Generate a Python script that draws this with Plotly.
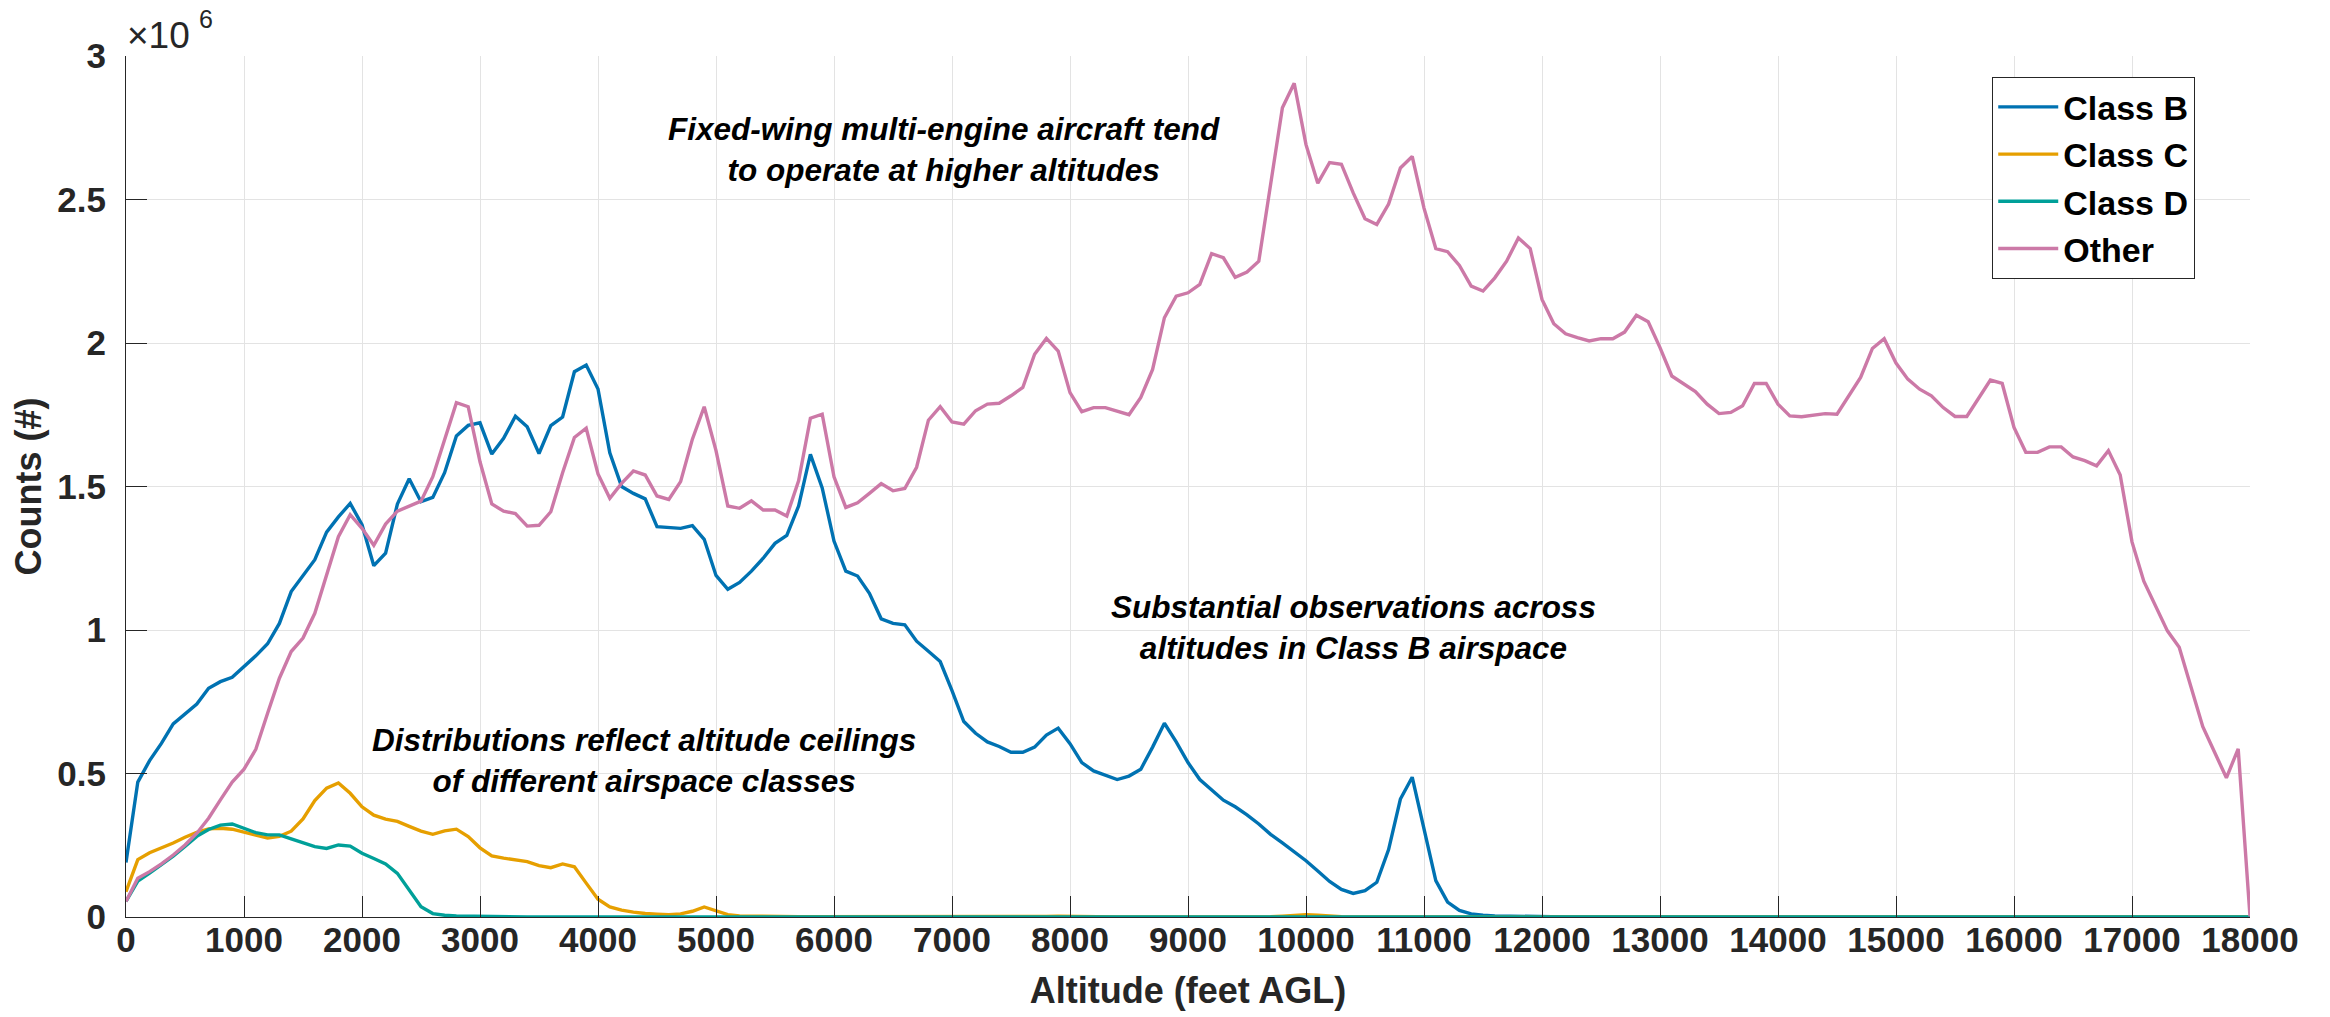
import plotly.graph_objects as go

# Altitude bins (feet AGL), 100 ft spacing
altitude = list(range(0, 18001, 100))

# Counts in millions (x10^6)
class_b = [
    0.19, 0.47, 0.545, 0.605, 0.673, 0.708, 0.742, 0.797, 0.82, 0.835,
    0.872, 0.91, 0.952, 1.023, 1.134, 1.19, 1.245, 1.341, 1.394, 1.441,
    1.367, 1.224, 1.268, 1.439, 1.527, 1.447, 1.462, 1.548, 1.676, 1.713,
    1.722, 1.613, 1.668, 1.745, 1.708, 1.615, 1.712, 1.742, 1.9, 1.923,
    1.84, 1.617, 1.5, 1.476, 1.457, 1.36, 1.357, 1.354, 1.364, 1.316,
    1.19, 1.142, 1.166, 1.205, 1.25, 1.302, 1.33, 1.432, 1.612, 1.495,
    1.31, 1.205, 1.188, 1.128, 1.039, 1.023, 1.018, 0.961, 0.926, 0.89,
    0.789, 0.681, 0.64, 0.61, 0.594, 0.574, 0.574, 0.592, 0.634, 0.658,
    0.604, 0.538, 0.509, 0.494, 0.479, 0.491, 0.515, 0.592, 0.675, 0.61,
    0.538, 0.479, 0.443, 0.407, 0.384, 0.356, 0.324, 0.288, 0.258, 0.226,
    0.196, 0.16, 0.124, 0.096, 0.082, 0.092, 0.121, 0.235, 0.411, 0.487,
    0.306, 0.127, 0.052, 0.023, 0.011, 0.006, 0.004, 0.003, 0.002, 0.002,
    0.001, 0, 0, 0, 0, 0, 0, 0, 0, 0,
    0, 0, 0, 0, 0, 0, 0, 0, 0, 0,
    0, 0, 0, 0, 0, 0, 0, 0, 0, 0,
    0, 0, 0, 0, 0, 0, 0, 0, 0, 0,
    0, 0, 0, 0, 0, 0, 0, 0, 0, 0,
    0, 0, 0, 0, 0, 0, 0, 0, 0, 0,
    0,
]

class_c = [
    0.088, 0.2, 0.224, 0.24, 0.258, 0.278, 0.295, 0.307, 0.309, 0.306,
    0.297, 0.285, 0.275, 0.281, 0.299, 0.342, 0.406, 0.449, 0.467, 0.431,
    0.384, 0.355, 0.341, 0.333, 0.316, 0.299, 0.288, 0.3, 0.306, 0.28,
    0.241, 0.213, 0.205, 0.199, 0.193, 0.179, 0.172, 0.185, 0.175, 0.118,
    0.062, 0.035, 0.024, 0.017, 0.012, 0.01, 0.008, 0.011, 0.02, 0.035,
    0.02, 0.008, 0.004, 0.003, 0.002, 0.001, 0.001, 0.001, 0.001, 0.001,
    0.001, 0.001, 0.001, 0, 0, 0, 0, 0, 0, 0,
    0, 0, 0, 0, 0, 0, 0, 0.001, 0.002, 0.003,
    0.002, 0.001, 0, 0, 0, 0, 0, 0, 0, 0,
    0, 0, 0, 0, 0, 0, 0, 0.001, 0.003, 0.006,
    0.008, 0.006, 0.003, 0.001, 0, 0, 0, 0, 0, 0,
    0, 0, 0, 0, 0, 0, 0, 0, 0, 0,
    0, 0, 0, 0, 0, 0, 0, 0, 0, 0,
    0, 0, 0, 0, 0, 0, 0, 0, 0, 0,
    0, 0, 0, 0, 0, 0, 0, 0, 0, 0,
    0, 0, 0, 0, 0, 0, 0, 0, 0, 0,
    0, 0, 0, 0, 0, 0, 0, 0, 0, 0,
    0, 0, 0, 0, 0, 0, 0, 0, 0, 0,
    0,
]

class_d = [
    0.054, 0.125, 0.153, 0.181, 0.212, 0.246, 0.281, 0.305, 0.32, 0.324,
    0.31, 0.294, 0.286, 0.286, 0.272, 0.257, 0.245, 0.239, 0.251, 0.247,
    0.222, 0.204, 0.185, 0.152, 0.095, 0.036, 0.012, 0.006, 0.004, 0.003,
    0.002, 0.002, 0.001, 0.001, 0, 0, 0, 0, 0, 0,
    0, 0, 0, 0, 0, 0, 0, 0, 0, 0,
    0, 0, 0, 0, 0, 0, 0, 0, 0, 0,
    0, 0, 0, 0, 0, 0, 0, 0, 0, 0,
    0, 0, 0, 0, 0, 0, 0, 0, 0, 0,
    0, 0, 0, 0, 0, 0, 0, 0, 0, 0,
    0, 0, 0, 0, 0, 0, 0, 0, 0, 0,
    0, 0, 0, 0, 0, 0, 0, 0, 0, 0,
    0, 0, 0, 0, 0, 0, 0, 0, 0, 0,
    0, 0, 0, 0, 0, 0, 0, 0, 0, 0,
    0, 0, 0, 0, 0, 0, 0, 0, 0, 0,
    0, 0, 0, 0, 0, 0, 0, 0, 0, 0,
    0, 0, 0, 0, 0, 0, 0, 0, 0, 0,
    0, 0, 0, 0, 0, 0, 0, 0, 0, 0,
    0, 0, 0, 0, 0, 0, 0, 0, 0, 0,
    0,
]

other = [
    0.054, 0.135, 0.158, 0.185, 0.216, 0.251, 0.292, 0.344, 0.408, 0.47,
    0.515, 0.584, 0.71, 0.832, 0.925, 0.972, 1.058, 1.195, 1.325, 1.402,
    1.354, 1.295, 1.369, 1.414, 1.433, 1.449, 1.534, 1.668, 1.792, 1.778,
    1.586, 1.439, 1.414, 1.406, 1.362, 1.365, 1.412, 1.548, 1.671, 1.703,
    1.544, 1.459, 1.511, 1.554, 1.54, 1.467, 1.455, 1.517, 1.665, 1.778,
    1.625, 1.432, 1.424, 1.45, 1.418, 1.418, 1.397, 1.52, 1.738, 1.752,
    1.534, 1.427, 1.443, 1.476, 1.51, 1.485, 1.493, 1.567, 1.731, 1.778,
    1.725, 1.717, 1.764, 1.787, 1.79, 1.816, 1.845, 1.961, 2.016, 1.972,
    1.827, 1.761, 1.775, 1.775, 1.764, 1.75, 1.81, 1.908, 2.088, 2.163,
    2.175, 2.204, 2.311, 2.297, 2.229, 2.247, 2.285, 2.552, 2.82, 2.905,
    2.691, 2.557, 2.629, 2.623, 2.523, 2.433, 2.413, 2.484, 2.61, 2.65,
    2.47, 2.329, 2.318, 2.27, 2.198, 2.181, 2.227, 2.285, 2.366, 2.329,
    2.152, 2.067, 2.032, 2.019, 2.007, 2.015, 2.015, 2.038, 2.097, 2.074,
    1.984, 1.885, 1.859, 1.831, 1.787, 1.754, 1.758, 1.781, 1.859, 1.859,
    1.787, 1.746, 1.743, 1.749, 1.754, 1.752, 1.816, 1.88, 1.981, 2.015,
    1.93, 1.874, 1.839, 1.816, 1.775, 1.744, 1.744, 1.806, 1.871, 1.859,
    1.706, 1.619, 1.619, 1.638, 1.638, 1.603, 1.59, 1.572, 1.625, 1.54,
    1.307, 1.17, 1.086, 0.997, 0.94, 0.806, 0.663, 0.574, 0.485, 0.586,
    0.002,
]

series_names = ["Class B", "Class C", "Class D", "Other"]
series_values = [class_b, class_c, class_d, other]
series_colors = ["#0072B2", "#E69F00", "#00A099", "#CC79A7"]

x_ticks = list(range(0, 18001, 1000))
y_ticks = [0, 0.5, 1, 1.5, 2, 2.5, 3]
y_tick_text = ["0", "0.5", "1", "1.5", "2", "2.5", "3"]

notes = [
    ("Fixed-wing multi-engine aircraft tend<br>to operate at higher altitudes", 6930, 2.674),
    ("Substantial observations across<br>altitudes in Class B airspace", 10400, 1.01),
    ("Distributions reflect altitude ceilings<br>of different airspace classes", 4390, 0.547),
]

FONT = "Liberation Sans, Arial, Helvetica, sans-serif"
DARK = "#262626"
GRID = "#e3e3e3"

fig = go.Figure()
for name, vals, col in zip(series_names, series_values, series_colors):
    assert len(vals) == len(altitude), name
    fig.add_trace(go.Scatter(
        x=altitude, y=vals, name=name, mode="lines",
        line=dict(color=col, width=3.4),
    ))

for text, xv, yv in notes:
    fig.add_annotation(
        x=xv, y=yv, xref="x", yref="y", text=text, showarrow=False,
        align="center", xanchor="center", yanchor="middle",
        font=dict(family=FONT, size=31.5, color="black", weight="bold", style="italic"),
    )

# exponent label (x10^6), drawn as base + superscript
fig.add_annotation(
    x=0, y=1.0238, xref="paper", yref="paper", text="×10", showarrow=False,
    xanchor="left", yanchor="middle", xshift=-1,
    font=dict(family=FONT, size=37, color=DARK),
)
fig.add_annotation(
    x=0.0377, y=1.043, xref="paper", yref="paper", text="6", showarrow=False,
    xanchor="center", yanchor="middle",
    font=dict(family=FONT, size=25, color=DARK),
)

fig.update_layout(
    width=2330, height=1017,
    margin=dict(l=126, r=80, t=56, b=100),
    paper_bgcolor="white", plot_bgcolor="white",
    font=dict(family=FONT, color=DARK),
    showlegend=True,
    legend=dict(
        x=0.8785, y=0.9756, xanchor="left", yanchor="top",
        bgcolor="white", bordercolor=DARK, borderwidth=1.3,
        font=dict(family=FONT, size=34, color="black", weight="bold"),
        itemwidth=60, tracegroupgap=0,
    ),
    xaxis=dict(
        range=[0, 18000], tickvals=x_ticks, ticktext=[str(v) for v in x_ticks],
        ticks="inside", ticklen=21, tickwidth=1.3, tickcolor=DARK,
        showline=True, linecolor=DARK, linewidth=1.3, automargin=False,
        showgrid=True, gridcolor=GRID, gridwidth=1, zeroline=False,
        tickfont=dict(family=FONT, size=35, color=DARK, weight="bold"),
        ticklabelstandoff=-8,
        title=dict(text="Altitude (feet AGL)", standoff=19,
                   font=dict(family=FONT, size=36, color=DARK, weight="bold")),
    ),
    yaxis=dict(
        range=[0, 3], tickvals=y_ticks, ticktext=y_tick_text,
        ticks="inside", ticklen=21, tickwidth=1.3, tickcolor=DARK,
        showline=True, linecolor=DARK, linewidth=1.3, automargin=False,
        showgrid=True, gridcolor=GRID, gridwidth=1, zeroline=False,
        tickfont=dict(family=FONT, size=35, color=DARK, weight="bold"),
        ticklabelstandoff=12,
        title=dict(text="Counts (#)", standoff=4,
                   font=dict(family=FONT, size=36, color=DARK, weight="bold")),
    ),
)

fig.write_html("out.html")
